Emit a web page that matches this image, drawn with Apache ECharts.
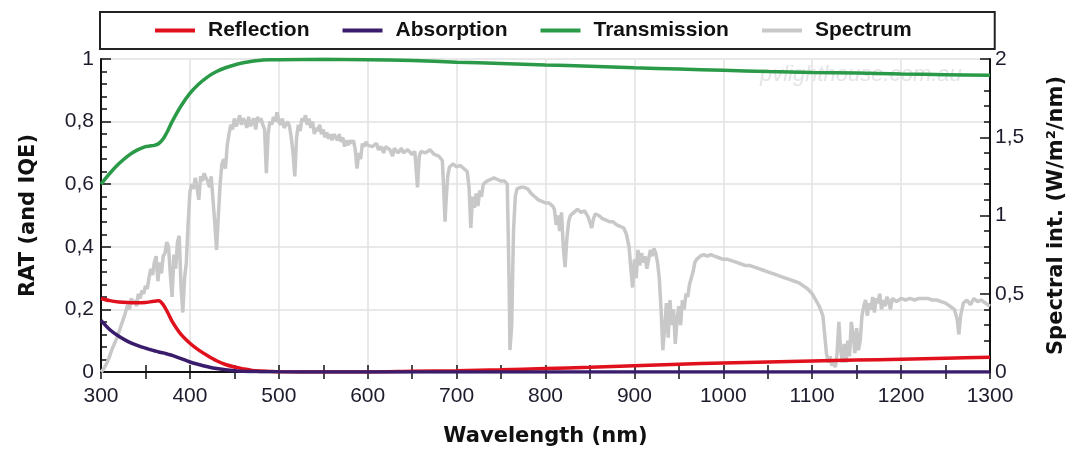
<!DOCTYPE html>
<html>
<head>
<meta charset="utf-8">
<style>
  html, body { margin: 0; padding: 0; background: #ffffff; }
  #chart { width: 1075px; height: 453px; }
</style>
<script src="https://cdn.jsdelivr.net/npm/echarts@6/dist/echarts.min.js"></script>
</head>
<body>
<div id="chart"></div>
<script>
// Wavelength grid (nm) for reflection / absorption / transmission
const ratWavelength = [300, 310, 320, 330, 340, 350, 355, 360, 365, 370, 375, 380, 390, 400, 410, 420, 430, 440, 450, 460, 470, 480, 490, 500, 550, 600, 650, 700, 750, 800, 850, 900, 950, 1000, 1050, 1100, 1150, 1200, 1250, 1300];
const reflection = [0.235, 0.228, 0.224, 0.222, 0.221, 0.222, 0.224, 0.226, 0.228, 0.215, 0.19, 0.162, 0.12, 0.092, 0.07, 0.052, 0.036, 0.024, 0.016, 0.01, 0.005, 0.003, 0.002, 0.001, 0.0, 0.0, 0.002, 0.004, 0.007, 0.011, 0.015, 0.02, 0.025, 0.029, 0.032, 0.035, 0.038, 0.041, 0.044, 0.047];
const absorption = [0.165, 0.135, 0.114, 0.098, 0.086, 0.076, 0.072, 0.068, 0.064, 0.061, 0.057, 0.053, 0.043, 0.032, 0.024, 0.017, 0.011, 0.007, 0.004, 0.002, 0.0015, 0.001, 0.0007, 0.0005, 0, 0, 0, 0, 0, 0, 0, 0, 0, 0, 0, 0, 0, 0, 0, 0];
const transmission = [0.60, 0.635, 0.665, 0.69, 0.708, 0.72, 0.722, 0.724, 0.73, 0.745, 0.77, 0.80, 0.85, 0.89, 0.92, 0.943, 0.96, 0.972, 0.981, 0.988, 0.993, 0.996, 0.998, 0.998, 0.999, 0.998, 0.995, 0.99, 0.986, 0.981, 0.977, 0.972, 0.968, 0.964, 0.96, 0.957, 0.955, 0.952, 0.95, 0.948];

// Solar spectral irradiance (W/m²/nm)
const specWavelength = [
  300, 303, 306, 309, 312, 315, 318, 321, 324, 327, 330, 332, 334, 336, 338, 340, 342, 344, 346, 348,
  350, 352, 354, 356, 358, 360, 362, 364, 366, 368, 370, 372, 374, 376, 378, 380, 382, 384, 386, 388,
  390, 392, 394, 396, 398, 400, 402, 404, 406, 408, 410, 412, 414, 416, 418, 420, 422, 424, 426, 428,
  430, 432, 434, 436, 438, 440, 442, 444, 446, 448, 450, 452, 454, 456, 458, 460, 462, 464, 466, 468,
  470, 472, 474, 476, 478, 480, 482, 484, 486, 488, 490, 492, 494, 496, 498, 500, 502, 504, 506, 508,
  510, 512, 514, 516, 518, 520, 522, 524, 526, 528, 530, 532, 534, 536, 538, 540, 542, 544, 546, 548,
  550, 552, 554, 556, 558, 560, 562, 564, 566, 568, 570, 572, 574, 576, 578, 580, 582, 584, 586, 588,
  590, 592, 594, 596, 598, 600, 605, 610, 612, 615, 618, 620, 625, 628, 630, 634, 638, 640, 645, 650,
  653, 656, 658, 660, 665, 670, 675, 680, 684, 686, 687, 688, 690, 692, 696, 700, 704, 708, 712, 714,
  716, 718, 720, 722, 724, 726, 728, 730, 734, 738, 742, 746, 750, 754, 757, 759, 760, 762, 764, 766,
  768, 772, 776, 780, 784, 788, 792, 796, 800, 804, 808, 810, 812, 814, 816, 818, 820, 822, 824, 826,
  828, 832, 836, 840, 844, 848, 850, 852, 854, 856, 860, 864, 868, 872, 876, 880, 884, 888, 891, 894,
  896, 898, 900, 902, 904, 906, 908, 910, 912, 914, 916, 918, 920, 922, 924, 926, 928, 930, 932, 934,
  936, 938, 940, 942, 944, 946, 948, 950, 952, 954, 956, 958, 960, 962, 964, 966, 968, 970, 974, 978,
  982, 986, 990, 995, 1000, 1005, 1010, 1015, 1020, 1025, 1030, 1035, 1040, 1045, 1050, 1055, 1060, 1065, 1070, 1075,
  1080, 1085, 1090, 1095, 1100, 1104, 1108, 1112, 1114, 1116, 1118, 1120, 1122, 1124, 1126, 1128, 1130, 1132, 1134, 1136,
  1138, 1140, 1142, 1144, 1146, 1148, 1150, 1152, 1154, 1156, 1158, 1160, 1162, 1164, 1166, 1168, 1170, 1172, 1174, 1176,
  1178, 1180, 1182, 1184, 1186, 1188, 1190, 1195, 1200, 1205, 1210, 1215, 1220, 1225, 1230, 1235, 1240, 1245, 1250, 1255,
  1260, 1263, 1265, 1267, 1270, 1274, 1278, 1282, 1286, 1290, 1295, 1300
];
const spectrum = [
  0.00, 0.02, 0.05, 0.09, 0.14, 0.18, 0.22, 0.27, 0.32, 0.37, 0.43, 0.40, 0.47, 0.44, 0.46, 0.42, 0.50, 0.47, 0.52, 0.50,
  0.55, 0.53, 0.60, 0.66, 0.62, 0.70, 0.74, 0.58, 0.70, 0.63, 0.74, 0.76, 0.83, 0.80, 0.62, 0.48, 0.75, 0.66, 0.83, 0.87,
  0.55, 0.38, 0.60, 0.70, 0.95, 1.15, 1.20, 1.17, 1.24, 1.18, 1.10, 1.25, 1.22, 1.27, 1.24, 1.22, 1.18, 1.25, 1.10, 0.95,
  0.78, 1.00, 1.20, 1.33, 1.36, 1.30, 1.45, 1.52, 1.58, 1.55, 1.62, 1.57, 1.60, 1.64, 1.58, 1.62, 1.60, 1.56, 1.63, 1.57,
  1.60, 1.62, 1.55, 1.63, 1.60, 1.62, 1.58, 1.55, 1.27, 1.52, 1.60, 1.58, 1.63, 1.60, 1.66, 1.60, 1.58, 1.62, 1.56, 1.55,
  1.60, 1.57, 1.50, 1.40, 1.25, 1.50, 1.58, 1.54, 1.62, 1.60, 1.64, 1.58, 1.62, 1.56, 1.60, 1.52, 1.56, 1.54, 1.58, 1.52,
  1.55, 1.50, 1.53, 1.49, 1.52, 1.48, 1.52, 1.50, 1.48, 1.52, 1.47, 1.50, 1.44, 1.48, 1.45, 1.48, 1.46, 1.48, 1.42, 1.30,
  1.40, 1.36, 1.46, 1.44, 1.47, 1.45, 1.44, 1.46, 1.42, 1.44, 1.40, 1.44, 1.42, 1.38, 1.43, 1.40, 1.43, 1.40, 1.42, 1.39,
  1.41, 1.18, 1.38, 1.41, 1.40, 1.42, 1.39, 1.38, 1.35, 1.10, 0.96, 1.08, 1.25, 1.31, 1.33, 1.31, 1.32, 1.30, 1.28, 1.18,
  0.92, 1.12, 1.05, 1.14, 1.06, 1.16, 1.12, 1.20, 1.22, 1.23, 1.24, 1.23, 1.22, 1.22, 1.20, 0.60, 0.14, 0.30, 0.90, 1.12,
  1.17, 1.18, 1.18, 1.17, 1.14, 1.12, 1.10, 1.09, 1.08, 1.08, 1.06, 1.04, 0.94, 1.00, 0.90, 1.02, 0.80, 0.67, 0.85, 0.96,
  1.00, 1.02, 1.04, 1.02, 1.03, 0.99, 1.00, 0.92, 0.98, 1.01, 1.00, 0.98, 0.97, 0.96, 0.96, 0.94, 0.93, 0.92, 0.88, 0.80,
  0.66, 0.54, 0.72, 0.60, 0.78, 0.68, 0.76, 0.70, 0.74, 0.66, 0.72, 0.78, 0.74, 0.79, 0.76, 0.70, 0.60, 0.40, 0.14, 0.28,
  0.44, 0.22, 0.46, 0.30, 0.40, 0.18, 0.34, 0.42, 0.30, 0.46, 0.40, 0.50, 0.48, 0.56, 0.60, 0.64, 0.70, 0.72, 0.74, 0.75,
  0.74, 0.75, 0.74, 0.73, 0.72, 0.72, 0.71, 0.70, 0.69, 0.68, 0.68, 0.67, 0.66, 0.65, 0.64, 0.63, 0.62, 0.61, 0.60, 0.59,
  0.58, 0.57, 0.55, 0.53, 0.50, 0.46, 0.42, 0.36, 0.24, 0.12, 0.06, 0.10, 0.04, 0.08, 0.03, 0.12, 0.32, 0.14, 0.06, 0.18,
  0.06, 0.20, 0.10, 0.32, 0.24, 0.12, 0.28, 0.14, 0.20, 0.36, 0.42, 0.46, 0.36, 0.44, 0.40, 0.48, 0.38, 0.47, 0.44, 0.50,
  0.40, 0.46, 0.42, 0.48, 0.45, 0.40, 0.47, 0.45, 0.47, 0.46, 0.47, 0.46, 0.47, 0.47, 0.47, 0.46, 0.46, 0.45, 0.44, 0.42,
  0.40, 0.34, 0.24, 0.36, 0.44, 0.46, 0.43, 0.47, 0.45, 0.46, 0.44, 0.42
];

const zip = (xs, ys) => xs.map((x, i) => [x, ys[i]]);
const comma = v => String(Number(v.toFixed(2))).replace('.', ',');
const plain = v => String(v);

const tickFont = { fontFamily: 'Liberation Sans, Arial, sans-serif', fontSize: 21, color: '#1c1c2c' };
const titleFont = { fontFamily: 'DejaVu Sans, Verdana, sans-serif', fontSize: 21, fontWeight: 'bold', color: '#111' };
const frame = { show: true, lineStyle: { color: '#111', width: 2 } };

const chart = echarts.init(document.getElementById('chart'), null, { renderer: 'canvas' });
chart.setOption({
  animation: false,
  backgroundColor: '#ffffff',
  grid: { left: 101, right: 84, top: 59, bottom: 81, containLabel: false },
  legend: {
    left: 100, top: 12, width: 900,
    padding: [8, 83, 8, 55],
    borderColor: '#222', borderWidth: 2,
    itemGap: 33, itemWidth: 40, itemHeight: 4,
    icon: 'rect',
    textStyle: { fontFamily: 'Liberation Sans, Arial, sans-serif', fontWeight: 'bold', fontSize: 21, color: '#111', padding: [0, 0, 0, 8] },
    data: ['Reflection', 'Absorption', 'Transmission', 'Spectrum']
  },
  graphic: [{
    type: 'text', left: 760, top: 64, z: 0, silent: true,
    style: { text: 'pvlighthouse.com.au', font: 'italic 22px Liberation Sans, Arial, sans-serif', fill: '#e4e4e8' }
  }],
  xAxis: [{
    type: 'value', position: 'bottom', min: 300, max: 1300, interval: 100,
    name: 'Wavelength (nm)', nameLocation: 'middle', nameGap: 54, nameTextStyle: titleFont,
    axisLine: frame,
    axisTick: { show: true, inside: true, length: 7, lineStyle: { color: '#111', width: 1.5 } },
    minorTick: { show: true, splitNumber: 2, length: 7, lineStyle: { color: '#111', width: 1.5 } },
    axisLabel: Object.assign({ margin: 14, formatter: plain }, tickFont),
    splitLine: { show: true, lineStyle: { color: '#e2e2e2', width: 1.5 } }
  }, {
    type: 'value', position: 'top', min: 300, max: 1300, interval: 100,
    axisLine: frame,
    axisTick: { show: true, inside: true, length: 7, lineStyle: { color: '#111', width: 1.5 } },
    minorTick: { show: true, splitNumber: 2, length: 7, lineStyle: { color: '#111', width: 1.5 } },
    axisLabel: { show: false },
    splitLine: { show: false }
  }],
  yAxis: [{
    type: 'value', position: 'left', min: 0, max: 1, interval: 0.2,
    name: 'RAT (and IQE)', nameLocation: 'middle', nameGap: 62, nameRotate: 90, nameTextStyle: titleFont,
    axisLine: frame,
    axisTick: { show: true, inside: true, length: 10, lineStyle: { color: '#111', width: 1.5 } },
    minorTick: { show: true, splitNumber: 5, length: 6, lineStyle: { color: '#111', width: 1.5 } },
    axisLabel: Object.assign({ margin: 7, formatter: comma }, tickFont),
    splitLine: { show: true, lineStyle: { color: '#e2e2e2', width: 1.5 } }
  }, {
    type: 'value', position: 'right', min: 0, max: 2, interval: 0.5,
    name: 'Spectral int. (W/m²/nm)', nameLocation: 'middle', nameGap: 56, nameRotate: 90, nameTextStyle: titleFont,
    axisLine: frame,
    axisTick: { show: true, inside: true, length: 10, lineStyle: { color: '#111', width: 1.5 } },
    minorTick: { show: true, splitNumber: 5, length: 6, lineStyle: { color: '#111', width: 1.5 } },
    axisLabel: Object.assign({ margin: 5, formatter: comma }, tickFont),
    splitLine: { show: false }
  }],
  series: [
    { name: 'Spectrum', type: 'line', xAxisIndex: 0, yAxisIndex: 1, data: zip(specWavelength, spectrum), showSymbol: false, z: 1,
      lineStyle: { color: '#c8c8c8', width: 3.5 }, itemStyle: { color: '#c8c8c8' } },
    { name: 'Reflection', type: 'line', xAxisIndex: 0, yAxisIndex: 0, data: zip(ratWavelength, reflection), showSymbol: false, smooth: 0.3, z: 3,
      lineStyle: { color: '#e0101c', width: 3.5 }, itemStyle: { color: '#e0101c' } },
    { name: 'Absorption', type: 'line', xAxisIndex: 0, yAxisIndex: 0, data: zip(ratWavelength, absorption), showSymbol: false, smooth: 0.3, z: 3,
      lineStyle: { color: '#3a1c6c', width: 3.5 }, itemStyle: { color: '#3a1c6c' } },
    { name: 'Transmission', type: 'line', xAxisIndex: 0, yAxisIndex: 0, data: zip(ratWavelength, transmission), showSymbol: false, smooth: 0.3, z: 3,
      lineStyle: { color: '#2a9a48', width: 3.5 }, itemStyle: { color: '#2a9a48' } }
  ]
});
</script>
</body>
</html>
